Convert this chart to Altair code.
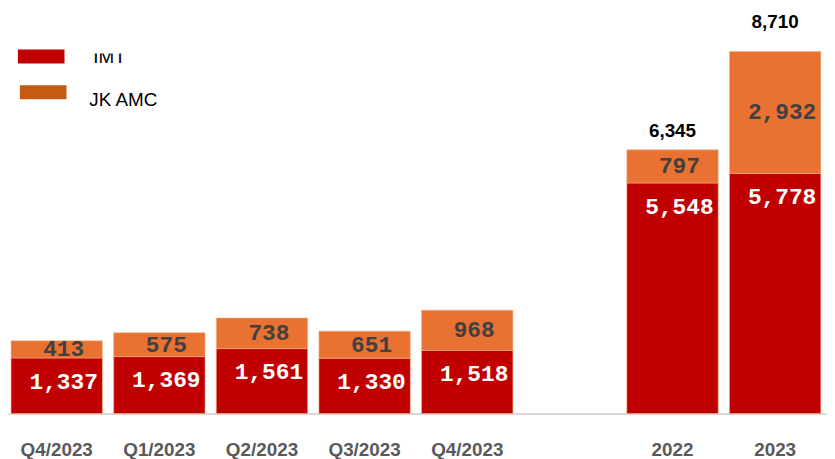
import altair as alt
import pandas as pd

# ---- data ----
slots = ["Q4/2023", "Q1/2023", "Q2/2023", "Q3/2023", "Q4/2023 ", "  ", "2022", "2023"]
periods = ["Q4/2023", "Q1/2023", "Q2/2023", "Q3/2023", "Q4/2023 ", "2022", "2023"]
imt = [1337, 1369, 1561, 1330, 1518, 5548, 5778]
jk_amc = [413, 575, 738, 651, 968, 797, 2932]
annual_periods = ["2022", "2023"]
annual_totals = [6345, 8710]
legend_labels = ["IMT", "JK AMC"]
legend_colors = ["#C00000", "#C55A11"]

IMT_COLOR = "#C00000"
JK_COLOR = "#E97132"

df = pd.DataFrame({"period": periods, "imt": imt, "jk": jk_amc})
df["total"] = df["imt"] + df["jk"]
df["mid"] = df["imt"] + df["jk"] / 2

tot = pd.DataFrame({"period": annual_periods, "total": annual_totals})

xscale = alt.Scale(domain=slots, paddingInner=0.11, paddingOuter=0.045, align=0.33)
yscale = alt.Scale(domain=[0, 9712], nice=False, zero=True)

X = alt.X(
    "period:N",
    scale=xscale,
    sort=slots,
    title=None,
    axis=alt.Axis(
        labelExpr="trim(datum.label)",
        labelAngle=0,
        ticks=False,
        domainColor="#d9d9d9",
        domainWidth=2,
        labelFont="Liberation Sans",
        labelFontWeight="bold",
        labelFontSize=19,
        labelColor="#595959",
        labelPadding=27,
        grid=False,
    ),
)

base = alt.Chart(df)

bar_imt = base.mark_bar(color=IMT_COLOR, stroke="#f4b183", strokeWidth=0.6).encode(
    x=X, y=alt.Y("imt:Q", scale=yscale, axis=None)
)
bar_jk = base.mark_bar(color=JK_COLOR, stroke="#f4b183", strokeWidth=0.6).encode(
    x=X, y=alt.Y("imt:Q", scale=yscale, axis=None), y2="total:Q"
)

lbl_imt = base.mark_text(
    font="Liberation Mono", fontWeight="bold", fontSize=23, color="white",
    baseline="middle", dy=24, dx=7,
).encode(x=X, y=alt.Y("imt:Q", scale=yscale, axis=None), text=alt.Text("imt:Q", format=","))

lbl_jk = base.mark_text(
    font="Liberation Mono", fontWeight="bold", fontSize=23, color="#404040",
    baseline="middle", dx=7,
).encode(x=X, y=alt.Y("mid:Q", scale=yscale, axis=None), text=alt.Text("jk:Q", format=","))

tot_base = alt.Chart(tot)
lbl_tot1 = tot_base.transform_filter(alt.datum.period == "2022").mark_text(
    font="Liberation Sans", fontWeight="bold", fontSize=19, color="black",
    baseline="bottom", dy=-9,
).encode(x=X, y=alt.Y("total:Q", scale=yscale, axis=None), text=alt.Text("total:Q", format=","))
lbl_tot2 = tot_base.transform_filter(alt.datum.period == "2023").mark_text(
    font="Liberation Sans", fontWeight="bold", fontSize=19, color="black",
    baseline="bottom", dy=-20,
).encode(x=X, y=alt.Y("total:Q", scale=yscale, axis=None), text=alt.Text("total:Q", format=","))

# ---- manual legend ----
leg1 = pd.DataFrame({"label": [legend_labels[0]], "color": [legend_colors[0]]})
leg2 = pd.DataFrame({"label": [legend_labels[1]], "color": [legend_colors[1]]})

sw1 = alt.Chart(leg1).mark_rect(color=legend_colors[0]).encode(
    x=alt.value(10), x2=alt.value(57), y=alt.value(40), y2=alt.value(54)
)
sw2 = alt.Chart(leg2).mark_rect(color=legend_colors[1]).encode(
    x=alt.value(12), x2=alt.value(59), y=alt.value(76), y2=alt.value(90)
)
tx1 = alt.Chart(leg1).mark_text(
    font="Liberation Sans", fontSize=19, color="black", align="left", baseline="alphabetic"
).encode(x=alt.value(86), y=alt.value(54), text="label:N")
mask = alt.Chart(leg1).mark_rect(color="white").encode(
    x=alt.value(78), x2=alt.value(130), y=alt.value(30), y2=alt.value(44)
)
tx2 = alt.Chart(leg2).mark_text(
    font="Liberation Sans", fontSize=19, color="black", align="left", baseline="alphabetic"
).encode(x=alt.value(82), y=alt.value(97), text="label:N")

chart = alt.layer(
    bar_imt, bar_jk, lbl_imt, lbl_jk, lbl_tot1, lbl_tot2, sw1, sw2, tx1, mask, tx2
).properties(
    width=826,
    height=407,
    autosize=alt.AutoSizeParams(type="none"),
    padding={"left": 0, "top": 0, "right": 0, "bottom": 50},
).configure_view(stroke=None)

chart.save("out.html", embed_options={"renderer": "svg", "actions": False})
